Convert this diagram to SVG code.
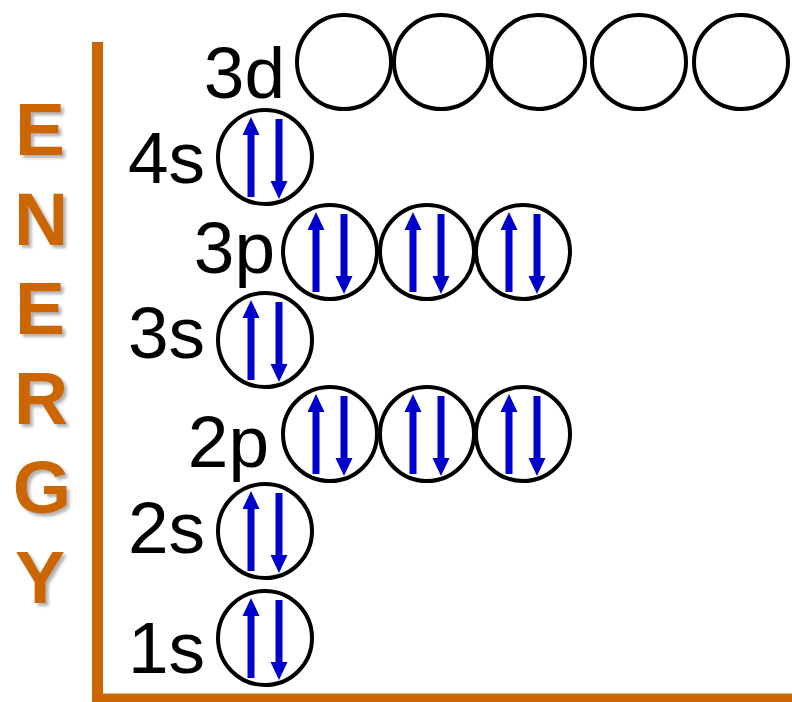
<svg xmlns="http://www.w3.org/2000/svg" xmlns:xlink="http://www.w3.org/1999/xlink" width="792" height="702" viewBox="0 0 792 702">
<style>
.lbl{font-family:"Liberation Sans",Arial,sans-serif;font-size:73px;fill:#000;text-anchor:end}
.en{font-family:"Liberation Sans",Arial,sans-serif;font-weight:bold;font-size:75px;fill:#CC6600;text-anchor:middle}
.orb{fill:#fff;stroke:#000;stroke-width:4}
.arr{fill:#0000CC}
.axis{fill:#CC6600}
</style>
<defs>
<filter id="sh" x="-20%" y="-20%" width="150%" height="150%">
<feDropShadow dx="3" dy="3" stdDeviation="1.5" flood-color="#808080" flood-opacity="0.6"/>
</filter>
<path id="up" class="arr" d="M0,-40 L8.5,-22 L3.5,-22 L3.5,40 L-3.5,40 L-3.5,-22 L-8.5,-22 Z"/>
<path id="down" class="arr" d="M0,42 L8.5,24 L3.5,24 L3.5,-38 L-3.5,-38 L-3.5,24 L-8.5,24 Z"/>
<g id="pair">
<circle class="orb" cx="0" cy="0" r="47"/>
<use xlink:href="#up" x="-14"/>
<use xlink:href="#down" x="14"/>
</g>
</defs>
<g id="axes">
<rect class="axis" x="92" y="42" width="11" height="660"/>
<rect class="axis" x="92" y="693.5" width="700" height="9"/>
</g>
<g id="energy-label" filter="url(#sh)">
<text class="en" x="40" y="155">E</text>
<text class="en" x="41" y="245">N</text>
<text class="en" x="40" y="334">E</text>
<text class="en" x="41" y="424">R</text>
<text class="en" x="42" y="513">G</text>
<text class="en" x="40" y="603">Y</text>
</g>
<g id="orb-3d">
<text class="lbl" x="285" y="98">3d</text>
<circle class="orb" cx="344" cy="62" r="47"/>
<circle class="orb" cx="441" cy="62" r="47"/>
<circle class="orb" cx="538" cy="62" r="47"/>
<circle class="orb" cx="639" cy="62" r="47"/>
<circle class="orb" cx="741" cy="62" r="47"/>
</g>
<g id="orb-4s">
<text class="lbl" x="205" y="183">4s</text>
<use xlink:href="#pair" transform="translate(265,157)"/>
</g>
<g id="orb-3p">
<text class="lbl" x="275" y="273">3p</text>
<use xlink:href="#pair" transform="translate(330,252)"/>
<use xlink:href="#pair" transform="translate(427,252)"/>
<use xlink:href="#pair" transform="translate(523,252)"/>
</g>
<g id="orb-3s">
<text class="lbl" x="205" y="358">3s</text>
<use xlink:href="#pair" transform="translate(265,340)"/>
</g>
<g id="orb-2p">
<text class="lbl" x="269" y="467">2p</text>
<use xlink:href="#pair" transform="translate(330,434)"/>
<use xlink:href="#pair" transform="translate(427,434)"/>
<use xlink:href="#pair" transform="translate(523,434)"/>
</g>
<g id="orb-2s">
<text class="lbl" x="205" y="553">2s</text>
<use xlink:href="#pair" transform="translate(265,531)"/>
</g>
<g id="orb-1s">
<text class="lbl" x="205" y="673">1s</text>
<use xlink:href="#pair" transform="translate(265,638)"/>
</g>
</svg>
